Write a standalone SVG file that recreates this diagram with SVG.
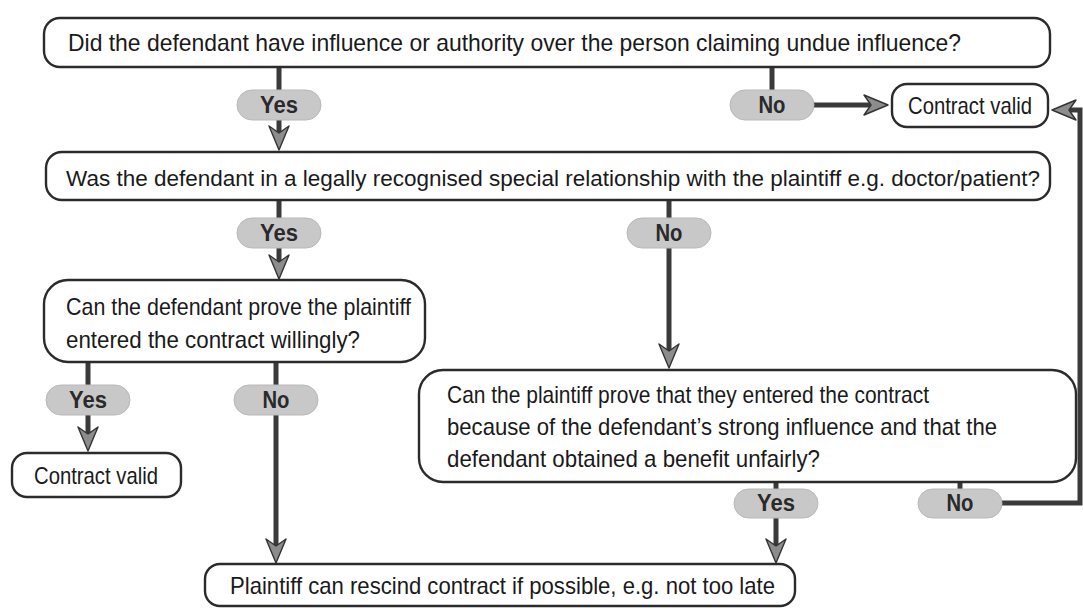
<svg xmlns="http://www.w3.org/2000/svg" xmlns:xlink="http://www.w3.org/1999/xlink" width="1083" height="614" viewBox="0 0 1083 614">
<style>
.box{fill:#fff;stroke:#2b2b2b;stroke-width:2.4}
.pill{fill:#c8c8c8;stroke:#b8b8b8;stroke-width:1}
.t{font-family:"Liberation Sans Narrow","Liberation Sans",Arial,sans-serif;font-stretch:condensed;font-size:24px;fill:#1a1a1a}
.s{font-size:22.5px}
.p{font-family:"Liberation Sans Narrow","Liberation Sans",Arial,sans-serif;font-stretch:condensed;font-size:23px;font-weight:bold;fill:#2a2a2a;text-anchor:middle}
.c{fill:none;stroke:#3a3a3a;stroke-width:5}
</style>
<defs>
<marker id="ah" viewBox="0 0 26 22" refX="11" refY="11" markerWidth="26" markerHeight="22" markerUnits="userSpaceOnUse" orient="auto">
<path d="M1,1 L25,11 L1,21 L8,11 Z" fill="#8c8c8c" stroke="#333" stroke-width="1.4" stroke-linejoin="round"/>
</marker>
</defs>
<rect width="1083" height="614" fill="#fff"/>
<g id="connectors">
<path class="c" d="M279,67 V91"/>
<path class="c" d="M279,119 V136" marker-end="url(#ah)"/>
<path class="c" d="M772,67 V91"/>
<path class="c" d="M814,105 H874" marker-end="url(#ah)"/>
<path class="c" d="M279,200 V219"/>
<path class="c" d="M279,247 V265" marker-end="url(#ah)"/>
<path class="c" d="M669,200 V219"/>
<path class="c" d="M669,247 V354" marker-end="url(#ah)"/>
<path class="c" d="M88,362 V385"/>
<path class="c" d="M88,415 V437" marker-end="url(#ah)"/>
<path class="c" d="M276,362 V385"/>
<path class="c" d="M276,415 V549" marker-end="url(#ah)"/>
<path class="c" d="M776,482 V489"/>
<path class="c" d="M776,517 V549" marker-end="url(#ah)"/>
<path class="c" d="M960,482 V489"/>
<path class="c" d="M1002,503 H1080 V110 H1066" marker-end="url(#ah)"/>
</g>
<g id="q1">
<rect class="box" x="44" y="18" width="1006" height="49" rx="16"/>
<text class="t" x="68" y="51" textLength="893" lengthAdjust="spacingAndGlyphs">Did the defendant have influence or authority over the person claiming undue influence?</text>
</g>
<g id="yes1"><rect class="pill" x="237" y="90" width="84" height="30" rx="15"/><text class="p" x="279" y="113" textLength="38" lengthAdjust="spacingAndGlyphs">Yes</text></g>
<g id="no1"><rect class="pill" x="730" y="90" width="84" height="30" rx="15"/><text class="p" x="772" y="113" textLength="27" lengthAdjust="spacingAndGlyphs">No</text></g>
<g id="valid1">
<rect class="box" x="892" y="84" width="156" height="43" rx="15"/>
<text class="t" x="970" y="114" text-anchor="middle" textLength="124" lengthAdjust="spacingAndGlyphs">Contract valid</text>
</g>
<g id="q2">
<rect class="box" x="46" y="152" width="1004" height="48" rx="16"/>
<text class="t s" x="66" y="186" textLength="974" lengthAdjust="spacingAndGlyphs">Was the defendant in a legally recognised special relationship with the plaintiff e.g. doctor/patient?</text>
</g>
<g id="yes2"><rect class="pill" x="237" y="218" width="84" height="30" rx="15"/><text class="p" x="279" y="241" textLength="38" lengthAdjust="spacingAndGlyphs">Yes</text></g>
<g id="no2"><rect class="pill" x="627" y="218" width="84" height="30" rx="15"/><text class="p" x="669" y="241" textLength="27" lengthAdjust="spacingAndGlyphs">No</text></g>
<g id="q3">
<rect class="box" x="44" y="280" width="381" height="82" rx="24"/>
<text class="t" x="66" y="315" textLength="345" lengthAdjust="spacingAndGlyphs">Can the defendant prove the plaintiff</text>
<text class="t" x="66" y="348" textLength="294" lengthAdjust="spacingAndGlyphs">entered the contract willingly?</text>
</g>
<g id="yes3"><rect class="pill" x="46" y="385" width="84" height="30" rx="15"/><text class="p" x="88" y="408" textLength="38" lengthAdjust="spacingAndGlyphs">Yes</text></g>
<g id="no3"><rect class="pill" x="234" y="385" width="84" height="30" rx="15"/><text class="p" x="276" y="408" textLength="27" lengthAdjust="spacingAndGlyphs">No</text></g>
<g id="valid2">
<rect class="box" x="12" y="453" width="169" height="44" rx="15"/>
<text class="t" x="96" y="484" text-anchor="middle" textLength="124" lengthAdjust="spacingAndGlyphs">Contract valid</text>
</g>
<g id="q4">
<rect class="box" x="419" y="370" width="657" height="112" rx="24"/>
<text class="t" x="447" y="403" textLength="482" lengthAdjust="spacingAndGlyphs">Can the plaintiff prove that they entered the contract</text>
<text class="t" x="447" y="435" textLength="550" lengthAdjust="spacingAndGlyphs">because of the defendant’s strong influence and that the</text>
<text class="t" x="447" y="467" textLength="373" lengthAdjust="spacingAndGlyphs">defendant obtained a benefit unfairly?</text>
</g>
<g id="yes4"><rect class="pill" x="734" y="489" width="84" height="29" rx="14.5"/><text class="p" x="776" y="511" textLength="38" lengthAdjust="spacingAndGlyphs">Yes</text></g>
<g id="no4"><rect class="pill" x="918" y="489" width="84" height="29" rx="14.5"/><text class="p" x="960" y="511" textLength="27" lengthAdjust="spacingAndGlyphs">No</text></g>
<g id="rescind">
<rect class="box" x="205" y="564" width="590" height="42" rx="15"/>
<text class="t" x="230" y="594" textLength="545" lengthAdjust="spacingAndGlyphs">Plaintiff can rescind contract if possible, e.g. not too late</text>
</g>
</svg>
